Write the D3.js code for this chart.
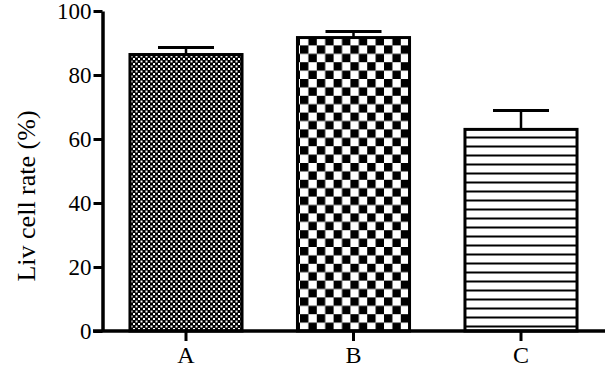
<!DOCTYPE html>
<html><head><meta charset="utf-8">
<script src="https://cdn.jsdelivr.net/npm/d3@7"></script>
<style>body{margin:0;background:#fff}</style>
</head><body>
<svg id="c" width="611" height="370"></svg>
<script>
const categories = ["A", "B", "C"];
const values = [86.4, 91.7, 63.0];
const errors = [2.2, 1.9, 5.9];
const yTicks = [0, 20, 40, 60, 80, 100];
const patterns = ["fine", "coarse", "lines"];

const svg = d3.select("#c");
const font = "Liberation Serif";
const defs = svg.append("defs");
// fine checkerboard
const p1 = defs.append("pattern").attr("id","fine").attr("patternUnits","userSpaceOnUse")
  .attr("width",5).attr("height",5);
p1.append("rect").attr("width",5).attr("height",5).attr("fill","#000");
p1.append("rect").attr("x",0.5).attr("y",0.5).attr("width",2).attr("height",2).attr("fill","#fff");
p1.append("rect").attr("x",3).attr("y",3).attr("width",2).attr("height",2).attr("fill","#fff");
// coarse checkerboard
const p2 = defs.append("pattern").attr("id","coarse").attr("patternUnits","userSpaceOnUse")
  .attr("width",16.8).attr("height",16.8).attr("x",300).attr("y",331);
p2.append("rect").attr("width",16.8).attr("height",16.8).attr("fill","#fff");
p2.append("rect").attr("x",0).attr("y",0).attr("width",8.4).attr("height",8.4).attr("fill","#000");
p2.append("rect").attr("x",8.4).attr("y",8.4).attr("width",8.4).attr("height",8.4).attr("fill","#000");
// horizontal lines
const p3 = defs.append("pattern").attr("id","lines").attr("patternUnits","userSpaceOnUse")
  .attr("width",10).attr("height",9).attr("y",331);
p3.append("rect").attr("width",10).attr("height",9).attr("fill","#fff");
p3.append("rect").attr("y",3.5).attr("width",10).attr("height",2).attr("fill","#000");

const x = d3.scaleBand().domain(categories).range([102.5, 604.5]).paddingInner(0.331).paddingOuter(0.164);
const y = d3.scaleLinear().domain([0, 100]).range([331, 11]);

// bars
categories.forEach((c, i) => {
  const x0 = x(c), w = x.bandwidth(), yt = y(values[i]), ye = y(values[i] + errors[i]);
  const cx = x0 + w / 2;
  svg.append("line").attr("x1", cx).attr("x2", cx).attr("y1", yt).attr("y2", ye)
    .attr("stroke", "#000").attr("stroke-width", 2.5);
  svg.append("line").attr("x1", cx - 28).attr("x2", cx + 28).attr("y1", ye).attr("y2", ye)
    .attr("stroke", "#000").attr("stroke-width", 3);
  svg.append("rect").attr("x", x0).attr("y", yt).attr("width", w).attr("height", y(0) - yt)
    .attr("fill", `url(#${patterns[i]})`).attr("stroke", "#000").attr("stroke-width", 3);
});

// y axis
const ya = svg.append("g").attr("transform", "translate(102.5,0)")
  .call(d3.axisLeft(y).tickValues(yTicks).tickSize(9).tickPadding(2).tickSizeOuter(0));
ya.attr("font-family", font).attr("font-size", 23);
ya.select(".domain").attr("stroke-width", 3.5);
ya.selectAll(".tick line").attr("stroke-width", 3);
ya.selectAll("text").attr("fill", "#000");

// x axis
const xa = svg.append("g").attr("transform", "translate(0,331)")
  .call(d3.axisBottom(x).tickSize(10).tickPadding(5).tickSizeOuter(0));
xa.attr("font-family", font).attr("font-size", 24);
xa.select(".domain").attr("stroke-width", 3.5).attr("d", "M93,0H605");
xa.selectAll(".tick line").attr("stroke-width", 3);
xa.selectAll("text").attr("fill", "#000");

svg.append("text").attr("transform", "translate(35,196) rotate(-90)")
  .attr("text-anchor", "middle").attr("font-family", font).attr("font-size", 26)
  .text("Liv cell rate (%)");
</script>
</body></html>
